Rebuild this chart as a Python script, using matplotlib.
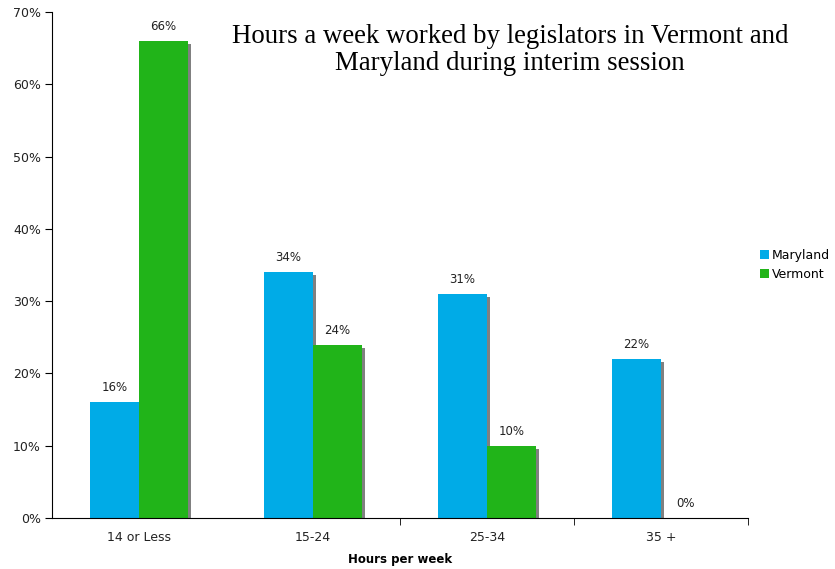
import numpy as np
import matplotlib.pyplot as plt
from matplotlib.ticker import FixedLocator

categories = ['14 or Less', '15-24', '25-34', '35 +']
maryland = [16, 34, 31, 22]
vermont = [66, 24, 10, 0]
series = ['Maryland', 'Vermont']
colors = ['#00abe7', '#21b419']

fig = plt.figure(figsize=(8.35, 5.69), dpi=100)
ax = fig.add_axes([0.0623, 0.0896, 0.8335, 0.8893])

x = np.arange(len(categories))
w = 0.28
# shadow offsets (about 3 px)
dx = 0.018
dy = 0.45

for vals, off, col, name in [(maryland, -w / 2, colors[0], series[0]),
                             (vermont, w / 2, colors[1], series[1])]:
    vals = np.array(vals, dtype=float)
    sh = np.clip(vals - dy, 0, None)
    ax.bar(x + off + dx, sh, w, color='#808080', zorder=1)
    ax.bar(x + off, vals, w, color=col, label=name, zorder=2)
    for xi, v in zip(x + off, vals):
        ax.text(xi, v + 1.1, f'{int(v)}%', ha='center', va='bottom',
                fontsize=8.5, color='#222222')

ax.set_xlim(-0.5, len(categories) - 0.5)
ax.set_ylim(0, 70)
ax.set_yticks(np.arange(0, 71, 10))
ax.set_yticklabels([f'{t}%' for t in range(0, 71, 10)], fontsize=9, color='#222222')
ax.set_xticks(x)
ax.set_xticklabels(categories, fontsize=9, color='#222222')
ax.tick_params(axis='x', which='major', length=0, pad=9)
ax.xaxis.set_minor_locator(FixedLocator(x[1:] + 0.5))
ax.tick_params(axis='x', which='minor', length=5, direction='out')
ax.tick_params(axis='y', length=5, direction='out', pad=3)
ax.set_xlabel('Hours per week', fontsize=8.5, fontweight='bold', labelpad=7)

for s in ['top', 'right']:
    ax.spines[s].set_visible(False)

fig.text(0.611, 0.912, 'Hours a week worked by legislators in Vermont and\nMaryland during interim session',
         ha='center', va='center', family='Liberation Serif', fontsize=19.4, linespacing=1.15)

leg = ax.legend(loc='center left', bbox_to_anchor=(1.005, 0.5), frameon=False,
                fontsize=9, handlelength=0.7, handleheight=0.7, handletextpad=0.25,
                labelspacing=0.45, borderaxespad=0.3)

fig.savefig('out.png', dpi=100)
